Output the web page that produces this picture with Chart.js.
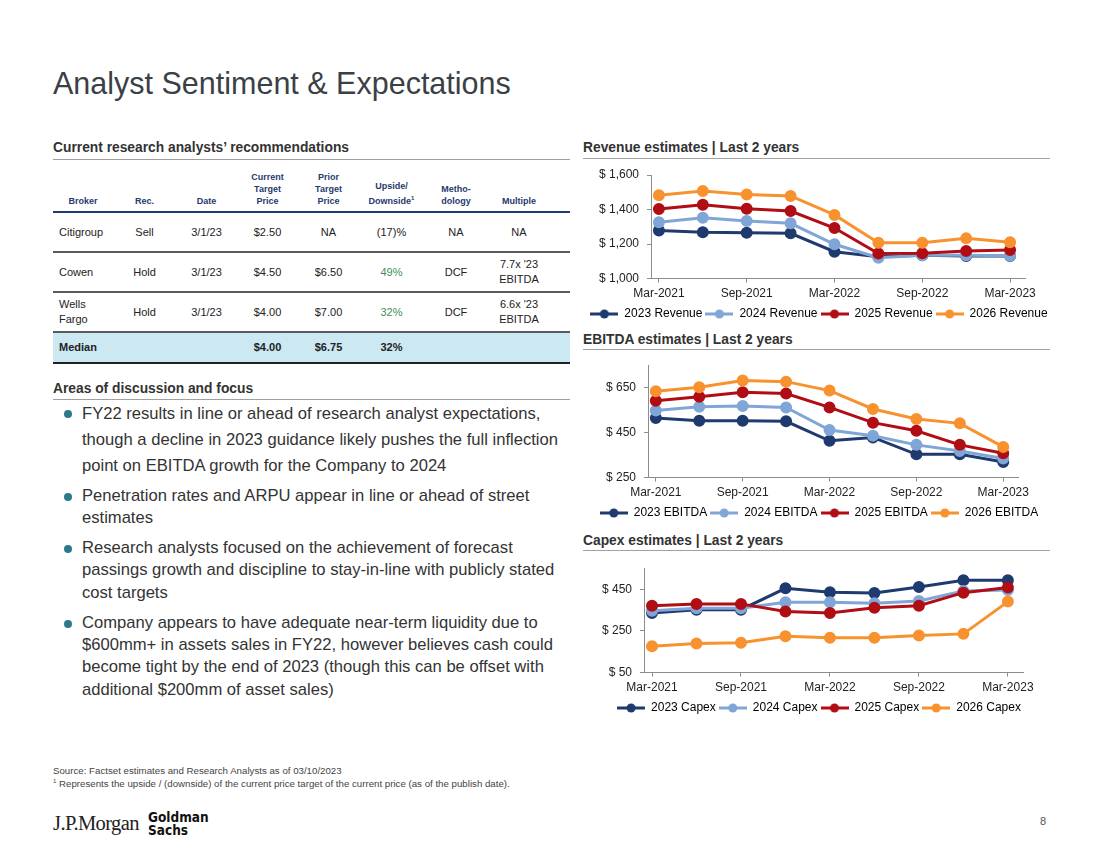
<!DOCTYPE html>
<html>
<head>
<meta charset="utf-8">
<script src="https://cdn.jsdelivr.net/npm/chart.js@4.4.1/dist/chart.umd.min.js"></script>
<style>
  body { margin: 0; width: 1100px; height: 849px; background: #fff; font-family: Arial, "Liberation Sans", sans-serif; color: #333; position: relative; overflow: hidden; }
  .abs { position: absolute; }
  .title { left: 53px; top: 66px; font-size: 30.5px; color: #3b3f46; white-space: nowrap; }
  .sec { font-size: 13.8px; font-weight: bold; color: #333; white-space: nowrap; }
  .rule { height: 1px; background: #a0a0a0; }
  table { border-collapse: collapse; font-size: 11px; color: #222; table-layout: fixed; }
  th, td { box-sizing: border-box; }
  th { font-size: 9px; font-weight: bold; color: #1f3a6e; vertical-align: bottom; text-align: center; padding: 0 0 4px 0; line-height: 12px; }
  td { text-align: center; padding: 0; line-height: 15px; }
  ul { list-style: none; margin: 0; padding: 0; }
  li { position: relative; padding-left: 29px; font-size: 16.6px; line-height: 22.3px; margin-bottom: 7.7px; white-space: nowrap; color: #333; }
  li:first-child { line-height: 26px; margin-bottom: 5.8px; }
  li::before { content: ""; position: absolute; left: 11px; top: 8px; width: 8px; height: 8px; border-radius: 50%; background: #2a7a8c; }
  li:first-child::before { top: 9px; }
  .note { font-size: 9.7px; color: #444; white-space: nowrap; line-height: 11px; }
</style>
</head>
<body>
<div class="abs title">Analyst Sentiment &amp; Expectations</div>

<div class="abs sec" style="left:53px;top:140px;">Current research analysts’ recommendations</div>
<div class="abs rule" style="left:53px;top:159px;width:517px;"></div>
<div class="abs" id="tbl" style="left:53px;top:171px;width:517px;"></div>

<div class="abs sec" style="left:53px;top:381px;">Areas of discussion and focus</div>
<div class="abs rule" style="left:53px;top:399px;width:517px;"></div>
<ul class="abs" id="bullets" style="left:53px;top:401px;"></ul>

<div class="abs sec" style="left:583px;top:140px;">Revenue estimates | Last 2 years</div>
<div class="abs rule" style="left:583px;top:158px;width:467px;"></div>
<div class="abs sec" style="left:583px;top:332px;">EBITDA estimates | Last 2 years</div>
<div class="abs rule" style="left:583px;top:349px;width:467px;"></div>
<div class="abs sec" style="left:583px;top:533px;">Capex estimates | Last 2 years</div>
<div class="abs rule" style="left:583px;top:550px;width:467px;"></div>

<canvas class="abs" id="revenue" width="472" height="166" style="left:583px;top:164px;"></canvas>
<canvas class="abs" id="ebitda" width="472" height="171" style="left:583px;top:358px;"></canvas>
<canvas class="abs" id="capex" width="472" height="163" style="left:583px;top:561px;"></canvas>

<div class="abs note" style="left:53px;top:765px;">Source: Factset estimates and Research Analysts as of 03/10/2023</div>
<div class="abs note" style="left:53px;top:776px;"><sup style="font-size:6px;">1</sup> Represents the upside / (downside) of the current price target of the current price (as of the publish date).</div>

<div class="abs" style="left:53px;top:812px;font-family:'Liberation Serif','DejaVu Serif',serif;font-size:20.5px;color:#222;letter-spacing:-0.6px;">J.P.Morgan</div>
<div class="abs" style="left:148px;top:811px;font-family:'DejaVu Sans Condensed','Liberation Sans Narrow',sans-serif;font-weight:bold;font-size:13.5px;line-height:13px;color:#111;">Goldman<br>Sachs</div>
<div class="abs" style="left:1040px;top:815px;font-size:11px;color:#555;">8</div>

<script>
// ---- table data ----
const brokers = ['Citigroup', 'Cowen', 'Wells<br>Fargo'];
const recs = ['Sell', 'Hold', 'Hold'];
const dates = ['3/1/23', '3/1/23', '3/1/23'];
const currentTargets = ['$2.50', '$4.50', '$4.00'];
const priorTargets = ['NA', '$6.50', '$7.00'];
const upsides = ['(17)%', '49%', '32%'];
const methods = ['NA', 'DCF', 'DCF'];
const multiples = ['NA', "7.7x '23<br>EBITDA", "6.6x '23<br>EBITDA"];
const median = ['Median', '', '', '$4.00', '$6.75', '32%', '', ''];

const bullets = [
  'FY22 results in line or ahead of research analyst expectations,<br>though a decline in 2023 guidance likely pushes the full inflection<br>point on EBITDA growth for the Company to 2024',
  'Penetration rates and ARPU appear in line or ahead of street<br>estimates',
  'Research analysts focused on the achievement of forecast<br>passings growth and discipline to stay-in-line with publicly stated<br>cost targets',
  'Company appears to have adequate near-term liquidity due to<br>$600mm+ in assets sales in FY22, however believes cash could<br>become tight by the end of 2023 (though this can be offset with<br>additional $200mm of asset sales)'
];

// ---- chart data ----
const quarters = ['Mar-2021', 'Jun-2021', 'Sep-2021', 'Dec-2021', 'Mar-2022', 'Jun-2022', 'Sep-2022', 'Dec-2022', 'Mar-2023'];
const xTickIdx = [0, 2, 4, 6, 8];
const years = ['2023', '2024', '2025', '2026'];
const colors = ['#1f3a6e', '#7fa6d6', '#b00d14', '#f7922e'];

const revenue2023 = [1279, 1268, 1266, 1262, 1156, 1127, 1135, 1131, 1131];
const revenue2024 = [1326, 1352, 1334, 1320, 1199, 1121, 1135, 1135, 1133];
const revenue2025 = [1403, 1428, 1405, 1391, 1293, 1145, 1147, 1160, 1166];
const revenue2026 = [1483, 1508, 1487, 1479, 1369, 1207, 1207, 1233, 1211];
const revenueTicks = [1000, 1200, 1400, 1600];

const ebitda2023 = [516, 504, 504, 501, 414, 429, 354, 354, 320];
const ebitda2024 = [549, 566, 569, 563, 462, 437, 396, 369, 335];
const ebitda2025 = [593, 611, 631, 625, 563, 495, 459, 396, 359];
const ebitda2026 = [635, 653, 683, 678, 638, 556, 511, 492, 387];
const ebitdaTicks = [250, 450, 650];

const capex2023 = [336, 352, 352, 455, 436, 432, 461, 494, 494];
const capex2024 = [347, 359, 359, 388, 388, 383, 394, 442, 447];
const capex2025 = [371, 380, 380, 344, 336, 361, 371, 434, 459];
const capex2026 = [177, 190, 193, 225, 217, 217, 228, 236, 391];
const capexTicks = [50, 250, 450];

// ---- table ----
const heads = ['Broker', 'Rec.', 'Date', 'Current<br>Target<br>Price', 'Prior<br>Target<br>Price', 'Upside/<br>Downside<sup style="font-size:6px">1</sup>', 'Metho-<br>dology', 'Multiple'];
const widths = [60, 63, 61, 61, 61, 65, 64, 82];
let html = '<table style="width:517px"><tr style="border-bottom:2px solid #1f3a6e">';
heads.forEach((h, i) => {
  html += `<th style="width:${widths[i]}px;${i === 7 ? 'padding-right:20px;' : ''}">${h}</th>`;
});
html += '</tr>';
brokers.forEach((b, r) => {
  const cells = [b, recs[r], dates[r], currentTargets[r], priorTargets[r], upsides[r], methods[r], multiples[r]];
  html += '<tr style="height:40px;border-bottom:2px solid #5a5a5a">';
  cells.forEach((c, i) => {
    let st = '';
    if (i === 0) st = 'text-align:left;padding-left:6px;';
    if (i === 5 && r > 0) st = 'color:#3f8f5a;';
    if (i === 7) st = 'padding-right:20px;';
    html += `<td style="${st}">${c}</td>`;
  });
  html += '</tr>';
});
html += '<tr style="height:31px;background:#cbe8f3;border-bottom:2px solid #222">';
median.forEach((c, i) => {
  html += `<td style="font-weight:bold;${i === 0 ? 'text-align:left;padding-left:6px;' : ''}">${c}</td>`;
});
html += '</tr></table>';
document.getElementById('tbl').innerHTML = html;

document.getElementById('bullets').innerHTML = bullets.map(b => `<li>${b}</li>`).join('');

// ---- charts ----
Chart.defaults.font.family = 'Arial, "Liberation Sans", sans-serif';
Chart.defaults.font.size = 12;
Chart.defaults.color = '#222';

function legendIcon(color) {
  const c = document.createElement('canvas');
  c.width = 28; c.height = 10;
  const g = c.getContext('2d');
  g.strokeStyle = color; g.lineWidth = 3;
  g.beginPath(); g.moveTo(0, 5); g.lineTo(28, 5); g.stroke();
  g.fillStyle = color;
  g.beginPath(); g.arc(14, 5, 4.5, 0, Math.PI * 2); g.fill();
  return c;
}

function makeChart(id, name, series, ticks, yMin, yMax, plotLeftOff, padRight, padTop) {
  new Chart(document.getElementById(id), {
    type: 'line',
    data: {
      datasets: series.map((vals, i) => ({
        label: years[i] + ' ' + name,
        data: vals.map((v, k) => ({ x: k, y: v })),
        borderColor: colors[i],
        backgroundColor: colors[i],
        borderWidth: 3,
        pointRadius: 4.5,
        pointHoverRadius: 4.5,
        tension: 0,
        order: 3 - i
      }))
    },
    options: {
      responsive: false,
      animation: false,
      layout: { padding: { top: padTop, left: 0, right: 0, bottom: 0 } },
      plugins: {
        tooltip: { enabled: false },
        legend: {
          position: 'bottom',
          labels: {
            usePointStyle: true,
            pointStyleWidth: 28,
            boxHeight: 10,
            padding: 3,
            color: '#222',
            font: { size: 12 },
            generateLabels: chart => chart.data.datasets.map((ds, i) => ({
              text: ds.label,
              pointStyle: legendIcon(ds.borderColor),
              fillStyle: ds.borderColor,
              strokeStyle: ds.borderColor,
              lineWidth: 0,
              hidden: false,
              datasetIndex: i
            }))
          }
        }
      },
      scales: {
        x: {
          type: 'linear',
          min: -0.18,
          max: 8.34,
          afterBuildTicks: s => { s.ticks = xTickIdx.map(v => ({ value: v })); },
          afterFit: s => { s.paddingRight = padRight; },
          ticks: { callback: v => quarters[v], maxRotation: 0, autoSkip: false, padding: 4, color: '#222' },
          grid: { drawOnChartArea: false, tickLength: 4, color: '#8c8c8c' },
          border: { color: '#8c8c8c', width: 1 }
        },
        y: {
          min: yMin,
          max: yMax,
          afterBuildTicks: s => { s.ticks = ticks.map(v => ({ value: v })); },
          afterFit: s => { s.width = plotLeftOff; s.paddingTop = 0; },
          ticks: { callback: v => '$ ' + v.toLocaleString('en-US'), padding: 8, color: '#222' },
          grid: { drawOnChartArea: false, tickLength: 4, color: '#8c8c8c' },
          border: { color: '#8c8c8c', width: 1 }
        }
      }
    }
  });
}

makeChart('revenue', 'Revenue', [revenue2023, revenue2024, revenue2025, revenue2026], revenueTicks, 1000, 1600, 68, 30, 11);
makeChart('ebitda', 'EBITDA', [ebitda2023, ebitda2024, ebitda2025, ebitda2026], ebitdaTicks, 250, 750, 65, 37, 7);
makeChart('capex', 'Capex', [capex2023, capex2024, capex2025, capex2026], capexTicks, 50, 550, 61, 32, 6);
</script>
</body>
</html>
